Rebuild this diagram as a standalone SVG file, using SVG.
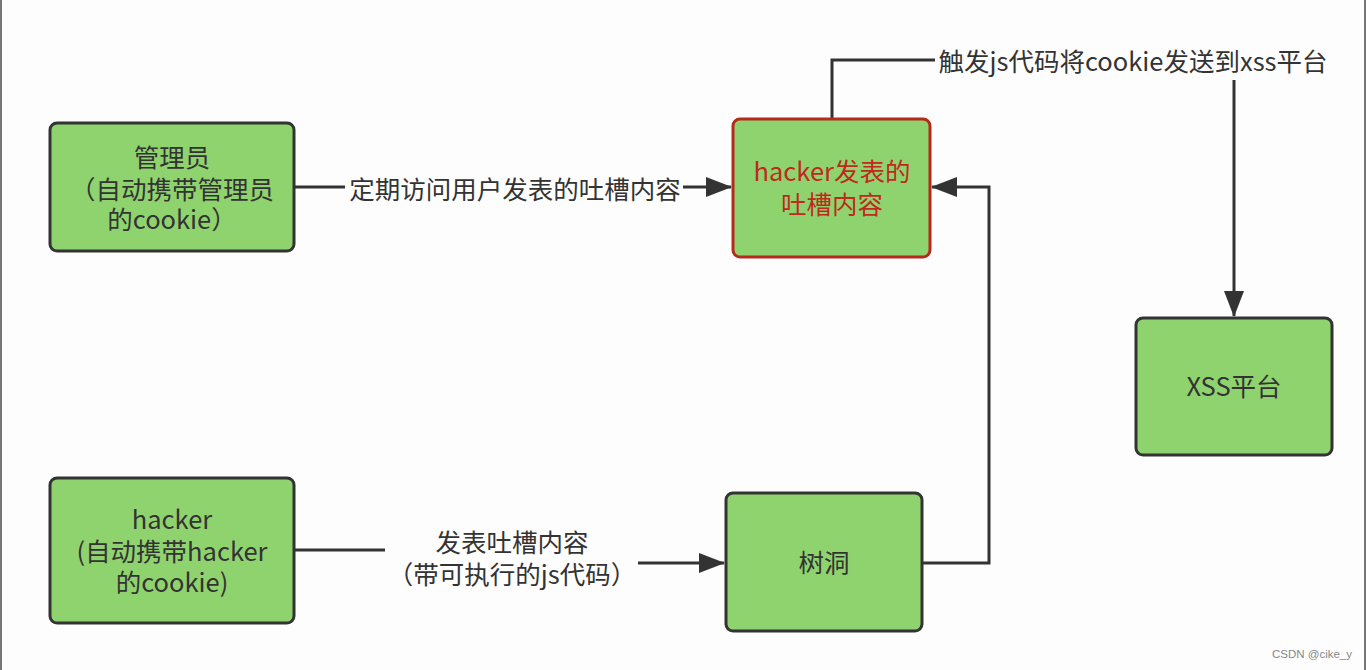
<svg xmlns="http://www.w3.org/2000/svg" width="1366" height="670" viewBox="0 0 1366 670">
<defs>
<style>
.node{fill:#8fd36f;stroke:#333;stroke-width:3}
.red{stroke:#b52a1c}
text{font-family:"Noto Sans CJK SC","Noto Sans",sans-serif;font-size:25.5px;fill:#333;text-anchor:middle}
.rt{fill:#c0291c}
.ln{fill:none;stroke:#333;stroke-width:3}
</style>
<marker id="ah" markerWidth="26" markerHeight="20" refX="25" refY="10" orient="auto" markerUnits="userSpaceOnUse">
<path d="M0,0 L26,10 L0,20 Z" fill="#333"/>
</marker>
</defs>
<rect width="1366" height="670" fill="#fdfdfd"/>
<line x1="1" y1="0" x2="1" y2="670" stroke="#777" stroke-width="2"/>
<line x1="1365" y1="0" x2="1365" y2="670" stroke="#777" stroke-width="2"/>
<g id="connectors">
<path class="ln" d="M294,187 H345"/>
<path class="ln" d="M683,187 H731" marker-end="url(#ah)"/>
<path class="ln" d="M294,550 H385"/>
<path class="ln" d="M638,563 H724" marker-end="url(#ah)"/>
<path class="ln" d="M922,563 H989 V187 H932" marker-end="url(#ah)"/>
<path class="ln" d="M832,119 V60 H935"/>
<path class="ln" d="M1234,80 V316" marker-end="url(#ah)"/>
<text x="515" y="199">定期访问用户发表的吐槽内容</text>
<text x="512" y="552">发表吐槽内容<tspan x="512" y="584">（带可执行的js代码）</tspan></text>
<text x="1133" y="71">触发js代码将cookie发送到xss平台</text>
</g>
<g id="admin">
<rect class="node" x="50" y="123" width="244" height="128" rx="7"/>
<text x="172" y="167">管理员<tspan x="172" y="199">（自动携带管理员</tspan><tspan x="172" y="229">的cookie）</tspan></text>
</g>
<g id="content">
<rect class="node red" x="733" y="119" width="197" height="138" rx="7"/>
<text class="rt" x="832" y="181">hacker发表的<tspan x="832" y="214">吐槽内容</tspan></text>
</g>
<g id="xss">
<rect class="node" x="1136" y="318" width="196" height="137" rx="7"/>
<text x="1234" y="396">XSS平台</text>
</g>
<g id="hacker">
<rect class="node" x="50" y="478" width="244" height="145" rx="7"/>
<text x="172" y="529">hacker<tspan x="172" y="561">(自动携带hacker</tspan><tspan x="172" y="592">的cookie)</tspan></text>
</g>
<g id="treehole">
<rect class="node" x="726" y="493" width="196" height="138" rx="7"/>
<text x="824" y="572">树洞</text>
</g>
<text x="1312" y="658" style="font-family:'Liberation Sans',sans-serif;font-size:11.5px;fill:#888">CSDN @cike_y</text>
</svg>
